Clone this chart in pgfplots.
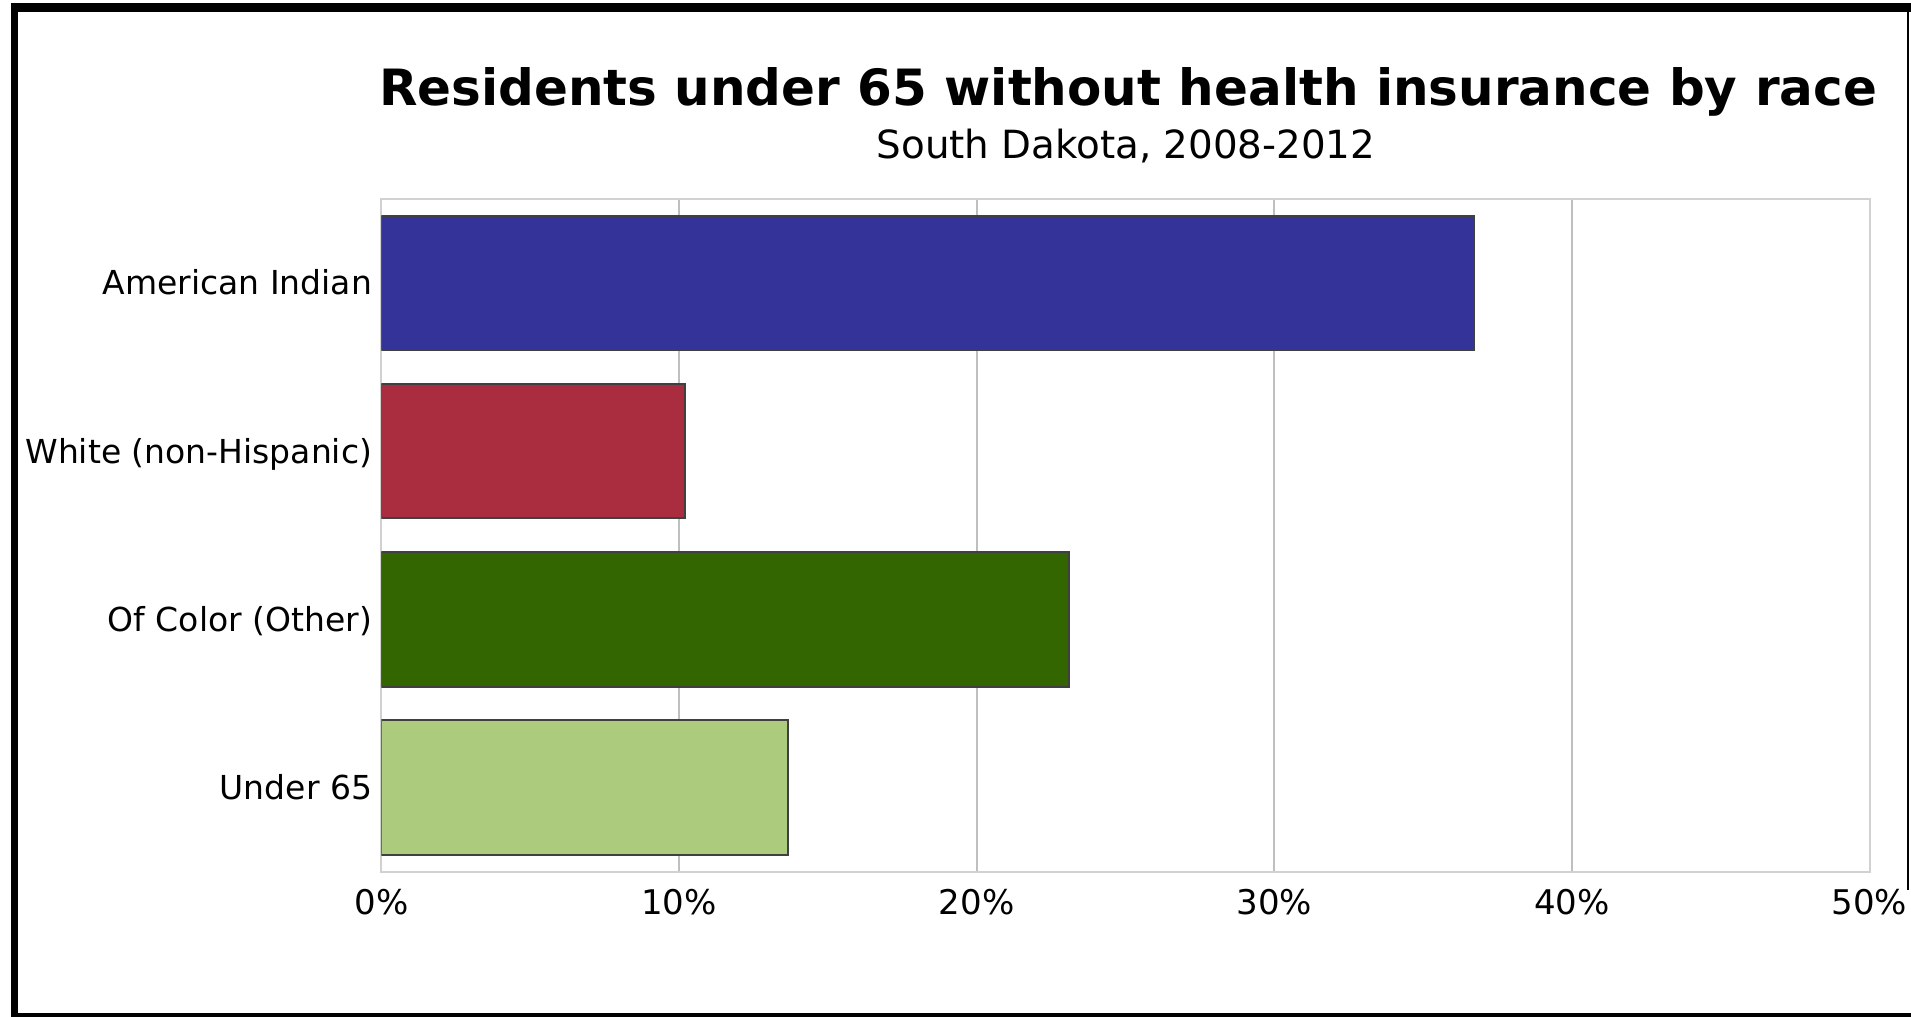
\documentclass[border=0pt]{standalone}
\usepackage{fontspec}
\setmainfont{DejaVu Sans}
\usepackage{pgfplots}
\pgfplotsset{compat=1.18}
\definecolor{c1}{HTML}{333399}
\definecolor{c2}{HTML}{A92C3F}
\definecolor{c3}{HTML}{336600}
\definecolor{c4}{HTML}{ADCB7D}
\begin{document}
\begin{tikzpicture}
\path[use as bounding box] (-190.75pt,-72.75pt) rectangle (764.75pt,435.75pt);
\begin{scope}[shift={(-190.75pt,435.75pt)}, x=0.5pt, y=-0.5pt]
\fill[white] (0,0) rectangle (1911,1017);
\fill[black] (11,3.3) rectangle (1911,11.7);
\fill[black] (11,3.3) rectangle (18.5,1017);
\fill[black] (11,1012.5) rectangle (1911,1017);
\fill[black] (1906.5,3.3) rectangle (1908.5,890);
\node[anchor=base, inner sep=0pt, font=\bfseries\fontsize{25pt}{30pt}\selectfont] at (1128,106) {Residents under 65 without health insurance by race};
\node[anchor=base, inner sep=0pt, font=\fontsize{19.4pt}{23pt}\selectfont] at (1126,158.3) {South Dakota, 2008-2012};
\end{scope}
\begin{axis}[
  at={(0,0)}, anchor=south west,
  scale only axis, width=744pt, height=336.35pt,
  xbar, bar width=0.8, bar shift=0pt,
  xmin=0, xmax=50, ymin=-0.5, ymax=3.5,
  xtick={0,10,20,30,40,50},
  xticklabel={\pgfmathprintnumber{\tick}\%},
  ytick={0,1,2,3},
  yticklabels={Under 65, Of Color (Other), White (non-Hispanic), American Indian},
  major tick length=0pt,
  xmajorgrids, major grid style={black!25, line width=1pt},
  axis line style={black!18, line width=1pt},
  xticklabel style={font=\fontsize{17pt}{20pt}\selectfont},
  yticklabel style={font=\fontsize{16.5pt}{20pt}\selectfont},
  /pgf/number format/assume math mode=true,
  xticklabel style={anchor=north, inner sep=0pt, yshift=-8.5pt},
  yticklabel style={anchor=base east, inner sep=0pt, xshift=-4.5pt, yshift=-6pt},
]
\addplot[fill=c1, draw=black!75, line width=1pt] coordinates {(36.7,3)};
\addplot[fill=c2, draw=black!75, line width=1pt] coordinates {(10.2,2)};
\addplot[fill=c3, draw=black!75, line width=1pt] coordinates {(23.1,1)};
\addplot[fill=c4, draw=black!75, line width=1pt] coordinates {(13.65,0)};
\end{axis}
\end{tikzpicture}
\end{document}
